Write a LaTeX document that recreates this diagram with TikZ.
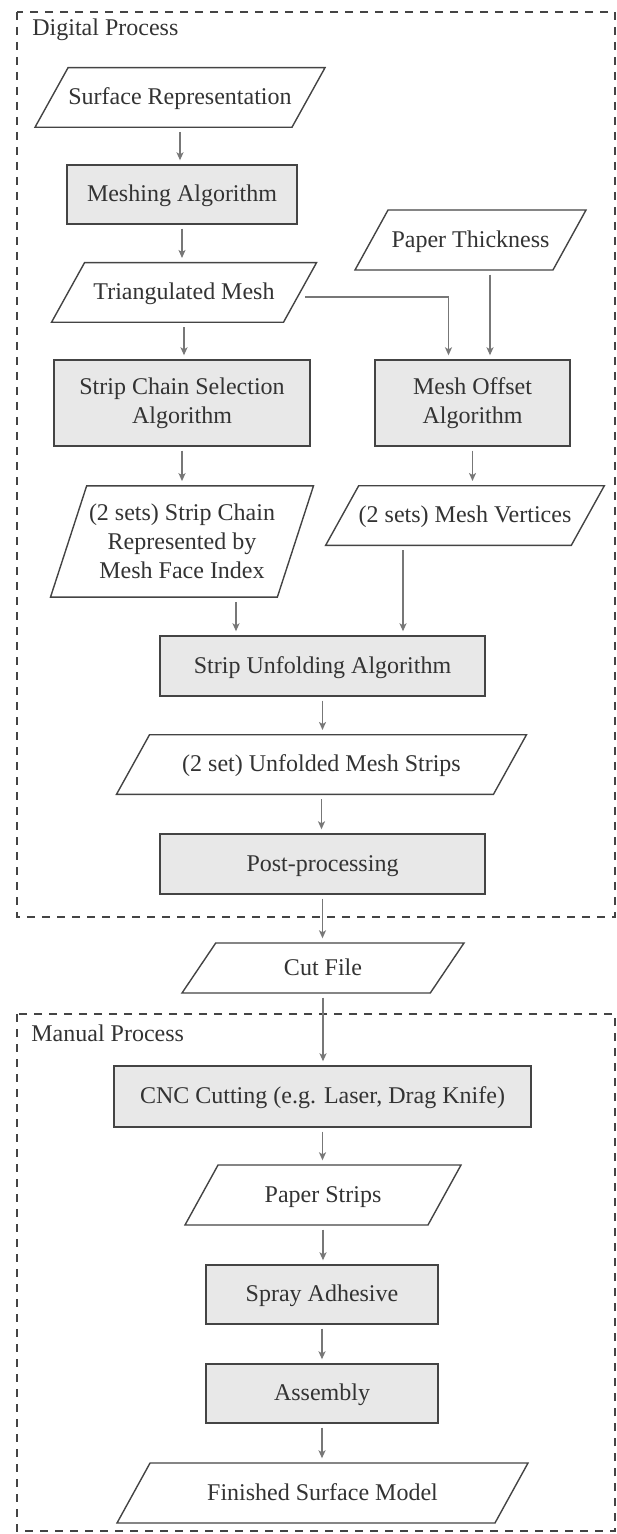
\documentclass[tikz,border=0pt]{standalone}
\usepackage{fontspec}
\setmainfont{Liberation Serif}
\usetikzlibrary{calc}
\usetikzlibrary{arrows.meta}
\usetikzlibrary{shapes.geometric}

\definecolor{boxgray}{HTML}{E8E8E8}
\definecolor{linegray}{HTML}{444444}
\definecolor{arrowgray}{HTML}{777777}
\definecolor{txtgray}{HTML}{333333}

\begin{document}
\begin{tikzpicture} [x=0.5pt, y=-0.5pt,
  every node/.style={font=\fontsize{12}{14.5}\selectfont, text=txtgray},
  oneline/.style={text height=8.3pt, text depth=1.1pt},
  proc/.style={draw=linegray, line width=0.7pt, fill=boxgray, rectangle, inner sep=0pt, align=center},
  iobase/.style={draw=linegray, line width=0.7pt, fill=white, trapezium, trapezium left angle=#1, trapezium right angle=180-#1, trapezium stretches body, inner xsep=0pt, align=center},
  io/.style={iobase=#1, oneline, inner ysep=10.2pt},
  io/.default=61,
  flow/.style={draw=arrowgray, line width=0.7pt, -{Stealth[length=4pt, width=3.5pt, inset=1pt]}, shorten <=2pt, shorten >=2pt},
  group/.style={draw=linegray, line width=0.6pt, dash pattern=on 4pt off 3.5pt}]
\useasboundingbox (0,0) rectangle (616,1534);

\draw[group] (17,12) rectangle (615,917);
\node[anchor=west, inner sep=0pt] (digital) at (32,30) {Digital Process};
\draw[group] (17,1014) rectangle (615,1531);
\node[anchor=west, inner sep=0pt] (manual) at (31,1033) {Manual Process};

\node[io, minimum width=145pt, minimum height=29.5pt] (surf) at (180,97.5) {Surface Representation};
\node[proc, oneline, minimum width=115pt, minimum height=29.5pt] (mesh) at (182,194.5) {Meshing Algorithm};
\node[io, minimum width=132.5pt, minimum height=29.5pt] (tri) at (184,292.5) {Triangulated Mesh};
\node[io, minimum width=115.5pt, minimum height=30pt] (thick) at (470.5,240) {Paper Thickness};
\node[proc, minimum width=128pt, minimum height=43pt] (select) at (182,403) {Strip Chain Selection\\Algorithm};
\node[proc, minimum width=97.5pt, minimum height=43pt] (offset) at (472.5,403) {Mesh Offset\\Algorithm};
\node[iobase=72, inner ysep=9.1pt, minimum width=131.5pt, minimum height=55.5pt] (chain) at (182,541.5) {(2 sets) Strip Chain\\Represented by\\Mesh Face Index};
\node[io, minimum width=138pt, minimum height=29.5pt] (verts) at (465,515.5) {(2 sets) Mesh Vertices};
\node[proc, oneline, minimum width=162.5pt, minimum height=30pt] (unfold) at (322.5,666) {Strip Unfolding Algorithm};
\node[io, minimum width=205pt, minimum height=29.5pt] (strips) at (321.5,764.5) {(2 set) Unfolded Mesh Strips};
\node[proc, oneline, minimum width=162.5pt, minimum height=30pt] (post) at (322.5,864) {Post-processing};
\node[io=56, inner ysep=7.8pt, minimum width=141pt, minimum height=25pt] (cut) at (323,968) {Cut File};
\node[proc, oneline, minimum width=208.5pt, minimum height=30.5pt] (cnc) at (322.5,1096.5) {CNC Cutting (e.g. Laser, Drag Knife)};
\node[io, minimum width=138pt, minimum height=30pt] (paper) at (323,1195) {Paper Strips};
\node[proc, oneline, minimum width=116pt, minimum height=29.5pt] (spray) at (322,1294.5) {Spray Adhesive};
\node[proc, oneline, minimum width=116pt, minimum height=29.5pt] (asm) at (322,1393.5) {Assembly};
\node[io, minimum width=205.5pt, minimum height=30pt] (model) at (322.5,1493) {Finished Surface Model};

\coordinate (outT) at ($(tri.east)+(0,4.5)$);
\coordinate (inT) at ($(offset.north)+(-24,0)$);
\coordinate (inP) at ($(offset.north)+(17.5,0)$);
\coordinate (inC) at ($(unfold.north)+(-86.5,0)$);
\coordinate (inV) at ($(unfold.north)+(80.5,0)$);

\foreach \a/\b in {surf/mesh, mesh/tri, tri/select, select/chain, offset/verts, unfold/strips, strips/post, post/cut, cut/cnc, cnc/paper, paper/spray, spray/asm, asm/model}
\draw[flow] (\a.south -| \a) -- (\a |- \b.north);

\draw[flow] (outT) -| (inT);
\draw[flow] (thick.south -| inP) -- (inP);
\draw[flow] (chain.south -| inC) -- (inC);
\draw[flow] (verts.south -| inV) -- (inV);

\end{tikzpicture}
\end{document}
